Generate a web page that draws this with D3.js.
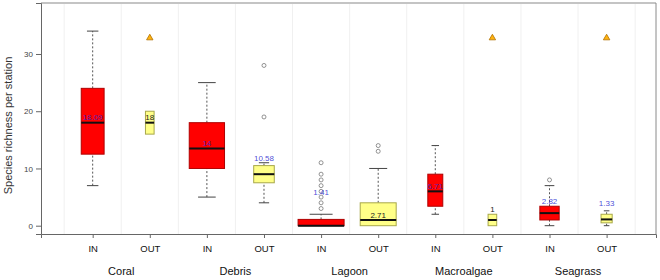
<!DOCTYPE html>
<html>
<head>
<meta charset="utf-8">
<script src="https://cdn.jsdelivr.net/npm/d3@7"></script>
<style>
  body { margin: 0; background: #fff; }
  text { font-family: "Liberation Sans", Arial, sans-serif; }
</style>
</head>
<body>
<div id="box"></div>
<script>
// habitat groups, each with an IN and an OUT box
const groups = ["Coral", "Debris", "Lagoon", "Macroalgae", "Seagrass"];
const sites = ["IN", "OUT"];

// box stats, in order Coral IN, Coral OUT, Debris IN, ...
const whiskLo = [7, 16, 5, 4, 0, 0, 2, 0, 0, 0];
const q1      = [12.5, 16, 10, 7.5, 0, 0, 3.4, 0, 1, 0.5];
const median  = [18, 18, 13.5, 9, 0, 1, 6, 1, 2.2, 1.1];
const q3      = [24, 20, 18, 10.5, 1.1, 4, 9, 2, 3.4, 2];
const whiskHi = [34, 20, 25, 11, 2, 10, 14, 2, 7, 2.6];
const nObs    = [21, 3, 50, 17, 85, 52, 9, 3, 15, 5];
const outliers = [[], [], [], [28, 19], [3, 4, 5, 6, 7, 8, 9, 11], [13, 14], [], [], [8], []];

// mean labels and where they sit (data units)
const meanLabels = ["18.09", "18", "14", "10.58", "1.41", "2.71", "6.71", "1", "2.82", "1.33"];
const labelAt = [18.9, 18.9, 14.3, 11.7, 5.85, 1.8, 6.8, 2.8, 4.25, 3.8];

// boxes marked with a triangle
const flagged = [1, 7, 9];
const flagAt = 32.8;

const yTicks = [0, 10, 20, 30];

const W = 660, H = 280;
const margin = {top: 3, right: 4, bottom: 46, left: 41};
const width = W - margin.left - margin.right;
const height = H - margin.top - margin.bottom;

const boxes = [];
groups.forEach((g, gi) => sites.forEach((s, si) => {
  const i = gi * 2 + si;
  boxes.push({i: i, pos: i + 1, group: g, site: s,
    lo: whiskLo[i], q1: q1[i], med: median[i], q3: q3[i], hi: whiskHi[i],
    n: nObs[i], out: outliers[i], lab: meanLabels[i], labY: labelAt[i]});
}));

const svg = d3.select("#box").append("svg")
  .attr("width", W).attr("height", H)
  .append("g")
  .attr("transform", `translate(${margin.left},${margin.top})`);

const x = d3.scaleLinear().domain([0.095, 10.865]).range([0, width]);
const y = d3.scaleLinear().domain([-1.45, 38.91]).range([height, 0]);
const bw = d3.scaleSqrt().domain([0, 85]).range([0, 46]);

// light vertical separators
svg.selectAll(".sep")
  .data(d3.range(0, 11))
  .enter().append("line")
  .attr("x1", d => x(d + 0.5)).attr("x2", d => x(d + 0.5))
  .attr("y1", 0).attr("y2", height)
  .attr("stroke", "#f0f0f0").attr("stroke-width", 1);

// frame
svg.append("line").attr("x1", 0).attr("x2", width).attr("y1", 0).attr("y2", 0)
  .attr("stroke", "#c4c4c4").attr("stroke-width", 2);
svg.append("line").attr("x1", width).attr("x2", width).attr("y1", 0).attr("y2", height)
  .attr("stroke", "#8a8a8a");

// y axis
const yAxis = svg.append("g")
  .call(d3.axisLeft(y).tickValues(yTicks).tickSize(5).tickPadding(3));
yAxis.select(".domain").attr("stroke", "#666");
yAxis.selectAll(".tick line").attr("stroke", "#666");
yAxis.selectAll("text").attr("fill", "#444").style("font-size", "8px");

// x axis
const xAxis = svg.append("g")
  .attr("transform", `translate(0,${height})`)
  .call(d3.axisBottom(x).tickValues(boxes.map(d => d.pos))
    .tickFormat((d, k) => boxes[k].site).tickSize(4).tickPadding(7));
xAxis.select(".domain").attr("stroke", "#666");
xAxis.selectAll(".tick line").attr("stroke", "#666");
xAxis.selectAll("text").attr("fill", "#111").style("font-size", "9.5px");

// group names
svg.selectAll(".grp")
  .data(groups)
  .enter().append("text")
  .attr("x", (d, gi) => x(gi * 2 + 1.5))
  .attr("y", height + 41)
  .attr("text-anchor", "middle")
  .attr("fill", "#111")
  .style("font-size", "11px")
  .text(d => d);

// y title
svg.append("text")
  .attr("transform", `translate(${8 - margin.left},${y(17.5)}) rotate(-90)`)
  .attr("text-anchor", "middle")
  .attr("dominant-baseline", "central")
  .attr("fill", "#333")
  .style("font-size", "11px")
  .text("Species richness per station");

// whiskers (dashed)
svg.selectAll(".whisk")
  .data(boxes.flatMap(d => [[d, d.lo, d.q1], [d, d.q3, d.hi]]).filter(w => w[1] !== w[2]))
  .enter().append("line")
  .attr("x1", w => x(w[0].pos)).attr("x2", w => x(w[0].pos))
  .attr("y1", w => y(w[1])).attr("y2", w => y(w[2]))
  .attr("stroke", "#555").attr("stroke-dasharray", "2,2");

// whisker caps
svg.selectAll(".cap")
  .data(boxes.flatMap(d => [[d, d.lo, d.q1], [d, d.hi, d.q3]]).filter(w => w[1] !== w[2]))
  .enter().append("line")
  .attr("x1", w => x(w[0].pos) - bw(w[0].n) / 4)
  .attr("x2", w => x(w[0].pos) + bw(w[0].n) / 4)
  .attr("y1", w => y(w[1])).attr("y2", w => y(w[1]))
  .attr("stroke", "#444");

// boxes
svg.selectAll(".bx")
  .data(boxes)
  .enter().append("rect")
  .attr("x", d => x(d.pos) - bw(d.n) / 2)
  .attr("width", d => bw(d.n))
  .attr("y", d => y(d.q3))
  .attr("height", d => y(d.q1) - y(d.q3))
  .attr("fill", d => d.site === "IN" ? "#ff0000" : "#ffff88")
  .attr("stroke", d => d.site === "IN" ? "#b00000" : "#a8a84a")
  .attr("stroke-width", 1);

// medians
svg.selectAll(".med")
  .data(boxes)
  .enter().append("line")
  .attr("x1", d => x(d.pos) - bw(d.n) / 2)
  .attr("x2", d => x(d.pos) + bw(d.n) / 2)
  .attr("y1", d => y(d.med)).attr("y2", d => y(d.med))
  .attr("stroke", "#111").attr("stroke-width", 2);

// outliers
svg.selectAll(".pt")
  .data(boxes.flatMap(d => d.out.map(v => [d, v])))
  .enter().append("circle")
  .attr("cx", p => x(p[0].pos))
  .attr("cy", p => y(p[1]))
  .attr("r", 2)
  .attr("fill", "none")
  .attr("stroke", "#777").attr("stroke-width", 0.8);

// triangles
const tri = d3.symbol().type(d3.symbolTriangle).size(18);
svg.selectAll(".flag")
  .data(flagged)
  .enter().append("path")
  .attr("d", tri)
  .attr("transform", i => `translate(${x(i + 1)},${y(flagAt)})`)
  .attr("fill", "#ffb30f")
  .attr("stroke", "#b07000").attr("stroke-width", 0.8);

// mean labels
const darkLab = [1, 5, 7];
svg.selectAll(".lab")
  .data(boxes)
  .enter().append("text")
  .attr("x", d => x(d.pos))
  .attr("y", d => y(d.labY))
  .attr("text-anchor", "middle")
  .attr("dominant-baseline", "central")
  .attr("fill", d => darkLab.includes(d.i) ? "#222" : "#2a2ad0")
  .attr("fill-opacity", d => darkLab.includes(d.i) ? 1 : 0.85)
  .style("font-size", "8px")
  .text(d => d.lab);
</script>
</body>
</html>
